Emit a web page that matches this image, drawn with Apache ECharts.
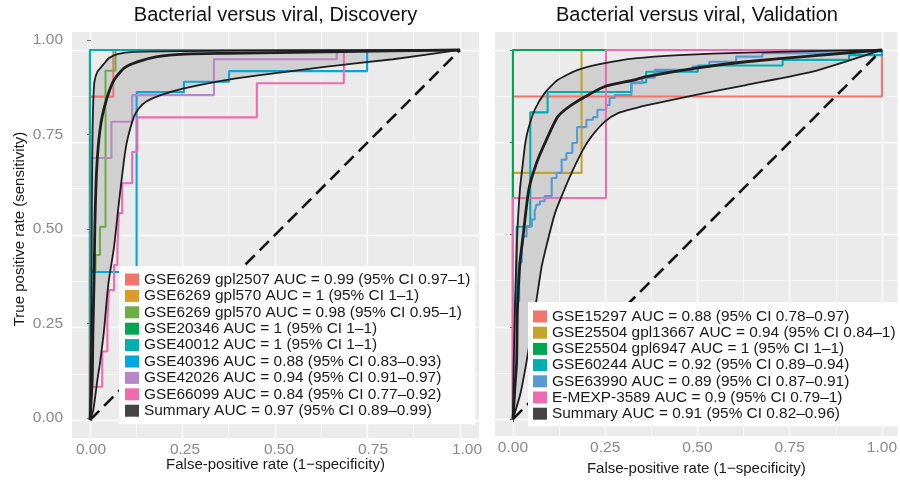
<!DOCTYPE html>
<html>
<head>
<meta charset="utf-8">
<script src="https://cdn.jsdelivr.net/npm/echarts@6/dist/echarts.min.js"></script>
<style>
html,body{margin:0;padding:0;background:#fff}
#chart{width:900px;height:481px}
</style>
</head>
<body>
<div id="chart"></div>
<script>
// tick positions
const tickValues = [0, 0.25, 0.5, 0.75, 1];
const minorValues = [0.125, 0.375, 0.625, 0.875];

// ---- Discovery ----
const discNames = [
    'GSE6269 gpl2507 AUC = 0.99 (95% CI 0.97–1)',
    'GSE6269 gpl570 AUC = 1 (95% CI 1–1)',
    'GSE6269 gpl570 AUC = 0.98 (95% CI 0.95–1)',
    'GSE20346 AUC = 1 (95% CI 1–1)',
    'GSE40012 AUC = 1 (95% CI 1–1)',
    'GSE40396 AUC = 0.88 (95% CI 0.83–0.93)',
    'GSE42026 AUC = 0.94 (95% CI 0.91–0.97)',
    'GSE66099 AUC = 0.84 (95% CI 0.77–0.92)',
    'Summary AUC = 0.97 (95% CI 0.89–0.99)'
];
const discColors = ['#F2756E', '#DC9A2A', '#6DAF45', '#00A651', '#00AEB2', '#00A7E1', '#B887C7', '#F26AAF'];

const dGpl2507 = [[0,0],[0,0.874],[0.063,0.874],[0.063,1],[1,1]];
const dGpl570a = [[0,0],[0,1],[1,1]];
const dGpl570b = [[0,0],[0,0.405],[0.015,0.405],[0.015,0.446],[0.027,0.446],[0.027,0.522],[0.042,0.522],[0.042,0.944],[0.069,0.944],[0.069,1],[1,1]];
const dGse20346 = [[0,0],[0,1],[1,1]];
const dGse40012 = [[0,0],[0,1],[1,1]];
const dGse40396 = [[0,0],[0,0.4],[0.126,0.4],[0.126,0.886],[0.254,0.886],[0.254,0.914],[0.376,0.914],[0.376,0.943],[0.749,0.943],[0.749,1],[1,1]];
const dGse42026 = [[0,0],[0,0.708],[0.058,0.708],[0.058,0.806],[0.114,0.806],[0.114,0.878],[0.335,0.878],[0.335,0.975],[0.667,0.975],[0.667,1],[1,1]];
const dGse66099 = [[0,0],[0,0.09],[0.033,0.09],[0.033,0.185],[0.047,0.185],[0.047,0.27],[0.051,0.27],[0.051,0.351],[0.065,0.351],[0.065,0.419],[0.074,0.419],[0.074,0.464],[0.078,0.464],[0.078,0.559],[0.087,0.559],[0.087,0.64],[0.114,0.64],[0.114,0.725],[0.128,0.725],[0.128,0.818],[0.451,0.818],[0.451,0.91],[0.686,0.91],[0.686,1],[1,1]];
const dSummary = [[0,0],[0.006,0.108],[0.008,0.243],[0.011,0.378],[0.013,0.514],[0.015,0.595],[0.018,0.676],[0.024,0.757],[0.033,0.82],[0.047,0.874],[0.065,0.919],[0.092,0.951],[0.128,0.968],[0.182,0.982],[0.254,0.989],[0.369,0.991],[0.64,0.995],[1,1]];
const dUpper = [[0,0],[0.004,0.324],[0.005,0.595],[0.007,0.784],[0.009,0.865],[0.012,0.914],[0.02,0.941],[0.033,0.957],[0.042,0.968],[0.051,0.978],[0.074,0.989],[0.119,0.995],[0.254,0.997],[0.568,0.999],[1,1]];
const dLower = [[0,0],[0.009,0.027],[0.02,0.108],[0.027,0.154],[0.038,0.243],[0.046,0.332],[0.051,0.378],[0.065,0.468],[0.078,0.586],[0.092,0.703],[0.101,0.757],[0.119,0.82],[0.132,0.842],[0.151,0.86],[0.191,0.878],[0.254,0.896],[0.351,0.916],[0.459,0.932],[0.64,0.955],[0.819,0.975],[1,1]];

// ---- Validation ----
const valNames = [
    'GSE15297 AUC = 0.88 (95% CI 0.78–0.97)',
    'GSE25504 gpl13667 AUC = 0.94 (95% CI 0.84–1)',
    'GSE25504 gpl6947 AUC = 1 (95% CI 1–1)',
    'GSE60244 AUC = 0.92 (95% CI 0.89–0.94)',
    'GSE63990 AUC = 0.89 (95% CI 0.87–0.91)',
    'E-MEXP-3589 AUC = 0.9 (95% CI 0.79–1)',
    'Summary AUC = 0.91 (95% CI 0.82–0.96)'
];
const valColors = ['#F2756E', '#C4A22E', '#00A651', '#00AEB2', '#5898D4', '#EC6DB2'];

const vGse15297 = [[0,0],[0,0.874],[1,0.874],[1,1]];
const vGpl13667 = [[0,0],[0,0.667],[0.186,0.667],[0.186,1],[1,1]];
const vGpl6947 = [[0,0],[0,1],[1,1]];
const vGse60244 = [[0,0],[0,0.3],[0.01,0.3],[0.01,0.521],[0.047,0.521],[0.047,0.831],[0.094,0.831],[0.094,0.886],[0.321,0.886],[0.321,0.912],[0.361,0.912],[0.361,0.941],[0.501,0.941],[0.501,0.958],[0.731,0.958],[0.731,0.973],[0.911,0.973],[0.911,0.986],[1,0.986],[1,1]];
const vGse63990 = [[0,0],[0.005,0],[0.005,0.32],[0.017,0.32],[0.017,0.424],[0.024,0.424],[0.024,0.459],[0.028,0.459],[0.028,0.495],[0.037,0.495],[0.037,0.522],[0.051,0.522],[0.051,0.541],[0.059,0.541],[0.059,0.563],[0.064,0.563],[0.064,0.581],[0.073,0.581],[0.073,0.59],[0.086,0.59],[0.086,0.604],[0.105,0.604],[0.105,0.653],[0.118,0.653],[0.118,0.667],[0.132,0.667],[0.132,0.703],[0.145,0.703],[0.145,0.721],[0.161,0.721],[0.161,0.748],[0.174,0.748],[0.174,0.791],[0.199,0.791],[0.199,0.811],[0.217,0.811],[0.217,0.818],[0.229,0.818],[0.229,0.838],[0.253,0.838],[0.253,0.851],[0.262,0.851],[0.262,0.87],[0.276,0.87],[0.276,0.878],[0.321,0.878],[0.321,0.91],[0.35,0.91],[0.35,0.925],[0.384,0.925],[0.384,0.946],[0.487,0.946],[0.487,0.955],[0.532,0.955],[0.532,0.968],[0.605,0.968],[0.605,0.982],[0.676,0.982],[0.676,0.991],[0.866,0.991],[0.866,0.995],[1,0.995],[1,1]];
const vEmexp3589 = [[0,0],[0,0.599],[0.252,0.599],[0.252,1],[1,1]];
const vSummary = [[0,0],[0.001,0.009],[0.005,0.081],[0.01,0.154],[0.012,0.289],[0.019,0.424],[0.028,0.5],[0.043,0.622],[0.064,0.694],[0.091,0.757],[0.122,0.82],[0.159,0.851],[0.204,0.878],[0.249,0.901],[0.33,0.919],[0.361,0.928],[0.496,0.951],[0.632,0.968],[0.812,0.984],[1,1]];
const vUpper = [[0,0],[0.002,0.15],[0.006,0.324],[0.011,0.486],[0.019,0.622],[0.028,0.703],[0.033,0.745],[0.041,0.784],[0.059,0.838],[0.086,0.883],[0.122,0.919],[0.176,0.946],[0.249,0.964],[0.33,0.977],[0.451,0.986],[0.632,0.993],[1,1]];
const vLower = [[0,0],[0.02,0.068],[0.038,0.162],[0.051,0.243],[0.064,0.324],[0.078,0.414],[0.095,0.486],[0.114,0.558],[0.132,0.604],[0.159,0.667],[0.19,0.73],[0.213,0.766],[0.249,0.806],[0.285,0.829],[0.33,0.842],[0.361,0.85],[0.496,0.878],[0.632,0.905],[0.812,0.941],[1,1]];

const diagonal = [[0,0],[1,1]];

const font = 'Liberation Sans, Arial, Helvetica, sans-serif';
const labelGray = '#8a8a8a';
const summaryKey = '#454545';

function fmt(v) { return v.toFixed(2); }

// panel axis: grey background grid lines only
function gridAxis(gridIndex, min, max, values, width) {
    return {
        type: 'value', gridIndex: gridIndex, min: min, max: max,
        axisLine: {show: false},
        axisTick: {show: false, customValues: values},
        axisLabel: {show: false},
        splitLine: {show: true, lineStyle: {color: '#ffffff', width: width}}
    };
}

function studyLine(name, data, color, idx) {
    return {
        name: name, type: 'line', data: data, xAxisIndex: idx, yAxisIndex: idx,
        color: color, symbol: 'none', silent: true,
        lineStyle: {width: 2.1, color: color}
    };
}

function curve(name, data, idx, width) {
    return {
        name: name, type: 'line', data: data, xAxisIndex: idx, yAxisIndex: idx,
        color: summaryKey, symbol: 'none', silent: true, smooth: 0.2,
        lineStyle: {width: width, color: '#1e1e1e'}
    };
}

function band(upper, lower, idx) {
    return {
        type: 'custom', xAxisIndex: idx, yAxisIndex: idx, silent: true,
        data: [[0, 0]],
        renderItem: function (params, api) {
            const pts = upper.concat(lower.slice().reverse()).map(function (p) { return api.coord(p); });
            return {type: 'polygon', shape: {points: pts}, style: {fill: '#d0d0d0'}};
        }
    };
}

function dashed(idx) {
    return {
        type: 'line', data: diagonal, xAxisIndex: idx, yAxisIndex: idx, symbol: 'none', silent: true,
        lineStyle: {width: 2.6, color: '#111', type: [13, 7]}
    };
}

const discLines = [dGpl2507, dGpl570a, dGpl570b, dGse20346, dGse40012, dGse40396, dGse42026, dGse66099];
const valLines = [vGse15297, vGpl13667, vGpl6947, vGse60244, vGse63990, vEmexp3589];
// GSE40012 sits on top along the upper edge in the reference
const discOrder = [0, 1, 2, 3, 5, 6, 7, 4];

const series = [];
// Discovery panel (axes index 0)
series.push(band(dUpper, dLower, 0));
discOrder.forEach(function (i) { series.push(studyLine(discNames[i], discLines[i], discColors[i], 0)); });
series.push(dashed(0));
series.push(curve('dUpper', dUpper, 0, 1.8));
series.push(curve('dLower', dLower, 0, 1.8));
series.push(curve(discNames[8], dSummary, 0, 2.8));
// Validation panel (axes index 2)
series.push(band(vUpper, vLower, 2));
valLines.forEach(function (d, i) { series.push(studyLine(valNames[i], d, valColors[i], 2)); });
series.push(dashed(2));
series.push(curve('vUpper', vUpper, 2, 1.8));
series.push(curve('vLower', vLower, 2, 1.8));
series.push(curve(valNames[6], vSummary, 2, 2.8));

const legendBase = {
    orient: 'vertical', icon: 'rect', itemWidth: 14, itemHeight: 12,
    backgroundColor: '#ffffff', selectedMode: false,
    textStyle: {fontSize: 15.4, color: '#1a1a1a', fontFamily: font}
};

const xName = 'False-positive rate (1−specificity)';
const nameStyle = {fontSize: 15, color: '#1a1a1a', fontFamily: font};

const chart = echarts.init(document.getElementById('chart'));
chart.setOption({
    animation: false,
    backgroundColor: '#ffffff',
    textStyle: {fontFamily: font},
    title: [
        {text: 'Bacterial versus viral, Discovery', left: 275.5, top: 5, textAlign: 'center', padding: 0,
         textStyle: {fontSize: 20, fontWeight: 'normal', color: '#111', fontFamily: font}},
        {text: 'Bacterial versus viral, Validation', left: 697, top: 5, textAlign: 'center', padding: 0,
         textStyle: {fontSize: 20, fontWeight: 'normal', color: '#111', fontFamily: font}}
    ],
    legend: [
        Object.assign({}, legendBase, {data: discNames, left: 119, top: 266, itemGap: 1.4, padding: [6, 5, 6, 6]}),
        Object.assign({}, legendBase, {data: valNames, left: 528, top: 302, itemGap: 1.2, padding: [7, 6, 5, 5]})
    ],
    grid: [
        {left: 72, top: 32, width: 407, height: 406, show: true, backgroundColor: '#EBEBEB', borderWidth: 0},
        {left: 495, top: 32, width: 404, height: 405, show: true, backgroundColor: '#EBEBEB', borderWidth: 0},
        {left: 91, top: 40, width: 376, height: 378, show: false}
    ],
    xAxis: [
        Object.assign(gridAxis(0, -0.0486, 1.0514, tickValues, 1.3), {
            name: xName, nameLocation: 'middle', nameGap: 19, nameTextStyle: nameStyle}),
        gridAxis(0, -0.0486, 1.0514, minorValues, 0.6),
        Object.assign(gridAxis(1, -0.0486, 1.0425, tickValues, 1.3), {
            axisTick: {show: true, customValues: tickValues, length: 3, lineStyle: {color: '#555'}},
            axisLabel: {show: true, customValues: tickValues, formatter: fmt, margin: 4, fontSize: 15.5, color: labelGray},
            name: xName, nameLocation: 'middle', nameGap: 19, nameTextStyle: nameStyle}),
        gridAxis(1, -0.0486, 1.0425, minorValues, 0.6),
        {type: 'value', gridIndex: 2, min: 0, max: 1, offset: 20,
         axisLine: {show: false},
         axisTick: {show: true, customValues: tickValues, length: 3, lineStyle: {color: '#777'}},
         axisLabel: {customValues: tickValues, formatter: fmt, margin: 4, fontSize: 15.5, color: labelGray},
         splitLine: {show: false}}
    ],
    yAxis: [
        gridAxis(0, -0.0486, 1.0486, tickValues, 1.3),
        gridAxis(0, -0.0486, 1.0486, minorValues, 0.6),
        Object.assign(gridAxis(1, -0.046, 1.0486, tickValues, 1.3), {
            axisTick: {show: true, customValues: tickValues, length: 3, lineStyle: {color: '#555'}}}),
        gridAxis(1, -0.046, 1.0486, minorValues, 0.6),
        {type: 'value', gridIndex: 2, min: 0, max: 1, offset: 19,
         axisLine: {show: false},
         axisTick: {show: true, customValues: tickValues, length: 4, lineStyle: {color: '#777'}},
         axisLabel: {customValues: tickValues, formatter: fmt, margin: 9, fontSize: 15.5, color: labelGray},
         splitLine: {show: false},
         name: 'True positive rate (sensitivity)', nameLocation: 'middle', nameRotate: 90, nameGap: 45,
         nameTextStyle: nameStyle}
    ],
    series: series
});
</script>
</body>
</html>
